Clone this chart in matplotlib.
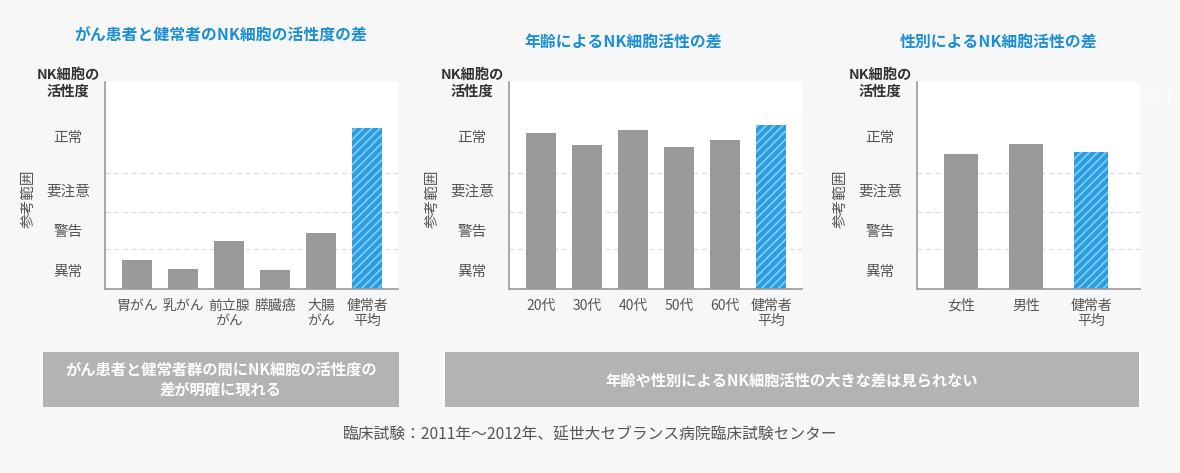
import matplotlib
matplotlib.use('Agg')
import matplotlib.pyplot as plt
from matplotlib.patches import Rectangle

plt.rcParams['font.family'] = ['Noto Sans CJK JP', 'DejaVu Sans']
plt.rcParams['hatch.linewidth'] = 1.2

W, H = 1180, 473

# data (arbitrary activity scale, 0-100)
cancer_labels = ['胃がん', '乳がん', '前立腺\nがん', '膵臓癌', '大腸\nがん', '健常者\n平均']
cancer_values = [14.0, 9.7, 23.2, 9.2, 27.1, 77.8]
age_labels = ['20代', '30代', '40代', '50代', '60代', '健常者\n平均']
age_values = [75.4, 69.6, 76.8, 68.6, 72.0, 79.2]
sex_labels = ['女性', '男性', '健常者\n平均']
sex_values = [65.2, 70.0, 66.2]

band_edges = [19.2, 37.3, 56.2]
range_labels = ['異常', '警告', '要注意', '正常']
range_pos = [8.2, 27.5, 46.9, 73.0]

titles = ['がん患者と健常者のNK細胞の活性度の差', '年齢によるNK細胞活性の差', '性別によるNK細胞活性の差']
notes = ['がん患者と健常者群の間にNK細胞の活性度の\n差が明確に現れる', '年齢や性別によるNK細胞活性の大きな差は見られない']
source = '臨床試験：2011年～2012年、延世大セブランス病院臨床試験センター'

GRAY = '#999999'
BLUE = '#2a9de0'
TXT = '#555555'
TITLE = '#1a8fd6'


def fx(x):
    return x / W


def fy(y):
    return 1 - y / H


fig = plt.figure(figsize=(W / 100, H / 100), dpi=100)
fig.patch.set_facecolor('#f7f7f7')

panels = [
    (105, 398, cancer_labels, cancer_values, 0.65, 221, 35),
    (509, 802, age_labels, age_values, 0.65, 623, 42),
    (917, 1140, sex_labels, sex_values, 0.52, 999, 42),
]
top, bottom = 82, 289

for i, (left, right, labels, values, bw, tx, ty) in enumerate(panels):
    ax = fig.add_axes([fx(left), fy(bottom), fx(right - left), (bottom - top) / H])
    ax.set_facecolor('white')
    n = len(values)
    x = list(range(n))
    colors = [GRAY] * (n - 1)
    ax.bar(x[:-1], values[:-1], width=bw, color=colors, zorder=2)
    ax.bar(x[-1], values[-1], width=bw, color=BLUE, edgecolor='#86cdf4',
           hatch='////', linewidth=0, zorder=2)
    if n == 3:
        ax.set_xlim(-0.68, n - 1 + 0.75)
    else:
        ax.set_xlim(-0.7, n - 1 + 0.67)
    ax.set_ylim(0, 100)
    for e in band_edges:
        ax.axhline(e, color='#dddddd', lw=0.9, ls=(0, (4, 3)), zorder=1)
    for s in ['top', 'right']:
        ax.spines[s].set_visible(False)
    for s in ['left', 'bottom']:
        ax.spines[s].set_color('#999999')
        ax.spines[s].set_linewidth(1.2)
    ax.set_yticks([])
    ax.set_xticks(x)
    ax.set_xticklabels(labels, fontsize=10, color=TXT, linespacing=1.1, va='top')
    ax.tick_params(axis='x', length=0, pad=7)

    cx = left - 37
    for lab, p in zip(range_labels, range_pos):
        ax.text(fx(cx), fy(bottom - p / 100 * (bottom - top)), lab, transform=fig.transFigure,
                ha='center', va='center', fontsize=10.5, color=TXT)
    fig.text(fx(cx), fy(83), 'NK細胞の\n活性度', ha='center', va='center',
             fontsize=10.3, fontweight='bold', color='#333333', linespacing=1.25)
    fig.text(fx(left - 76), fy(199), '参考範囲', rotation=90,
             ha='center', va='center', fontsize=10.5, color=TXT)
    fig.text(fx(tx), fy(ty), titles[i], ha='center', va='center',
             fontsize=11.4, fontweight='bold', color=TITLE)

fig.text(fx(1158), fy(97), '98.7', ha='center', va='center', fontsize=11, color='white')

# note boxes
boxes = [(43, 399), (445, 1139)]
for (l, r), note in zip(boxes, notes):
    fig.patches.append(Rectangle((fx(l), fy(407)), fx(r - l), (407 - 352) / H,
                                 transform=fig.transFigure, facecolor='#b3b3b3',
                                 edgecolor='none', zorder=0))
    fig.text(fx((l + r) / 2), fy(380), note, ha='center', va='center', fontsize=11,
             fontweight='bold', color='white', linespacing=1.3)

fig.text(fx(590), fy(435), source, ha='center', va='center', fontsize=11.3, color=TXT)

fig.savefig('out.png', dpi=100, facecolor=fig.get_facecolor())
